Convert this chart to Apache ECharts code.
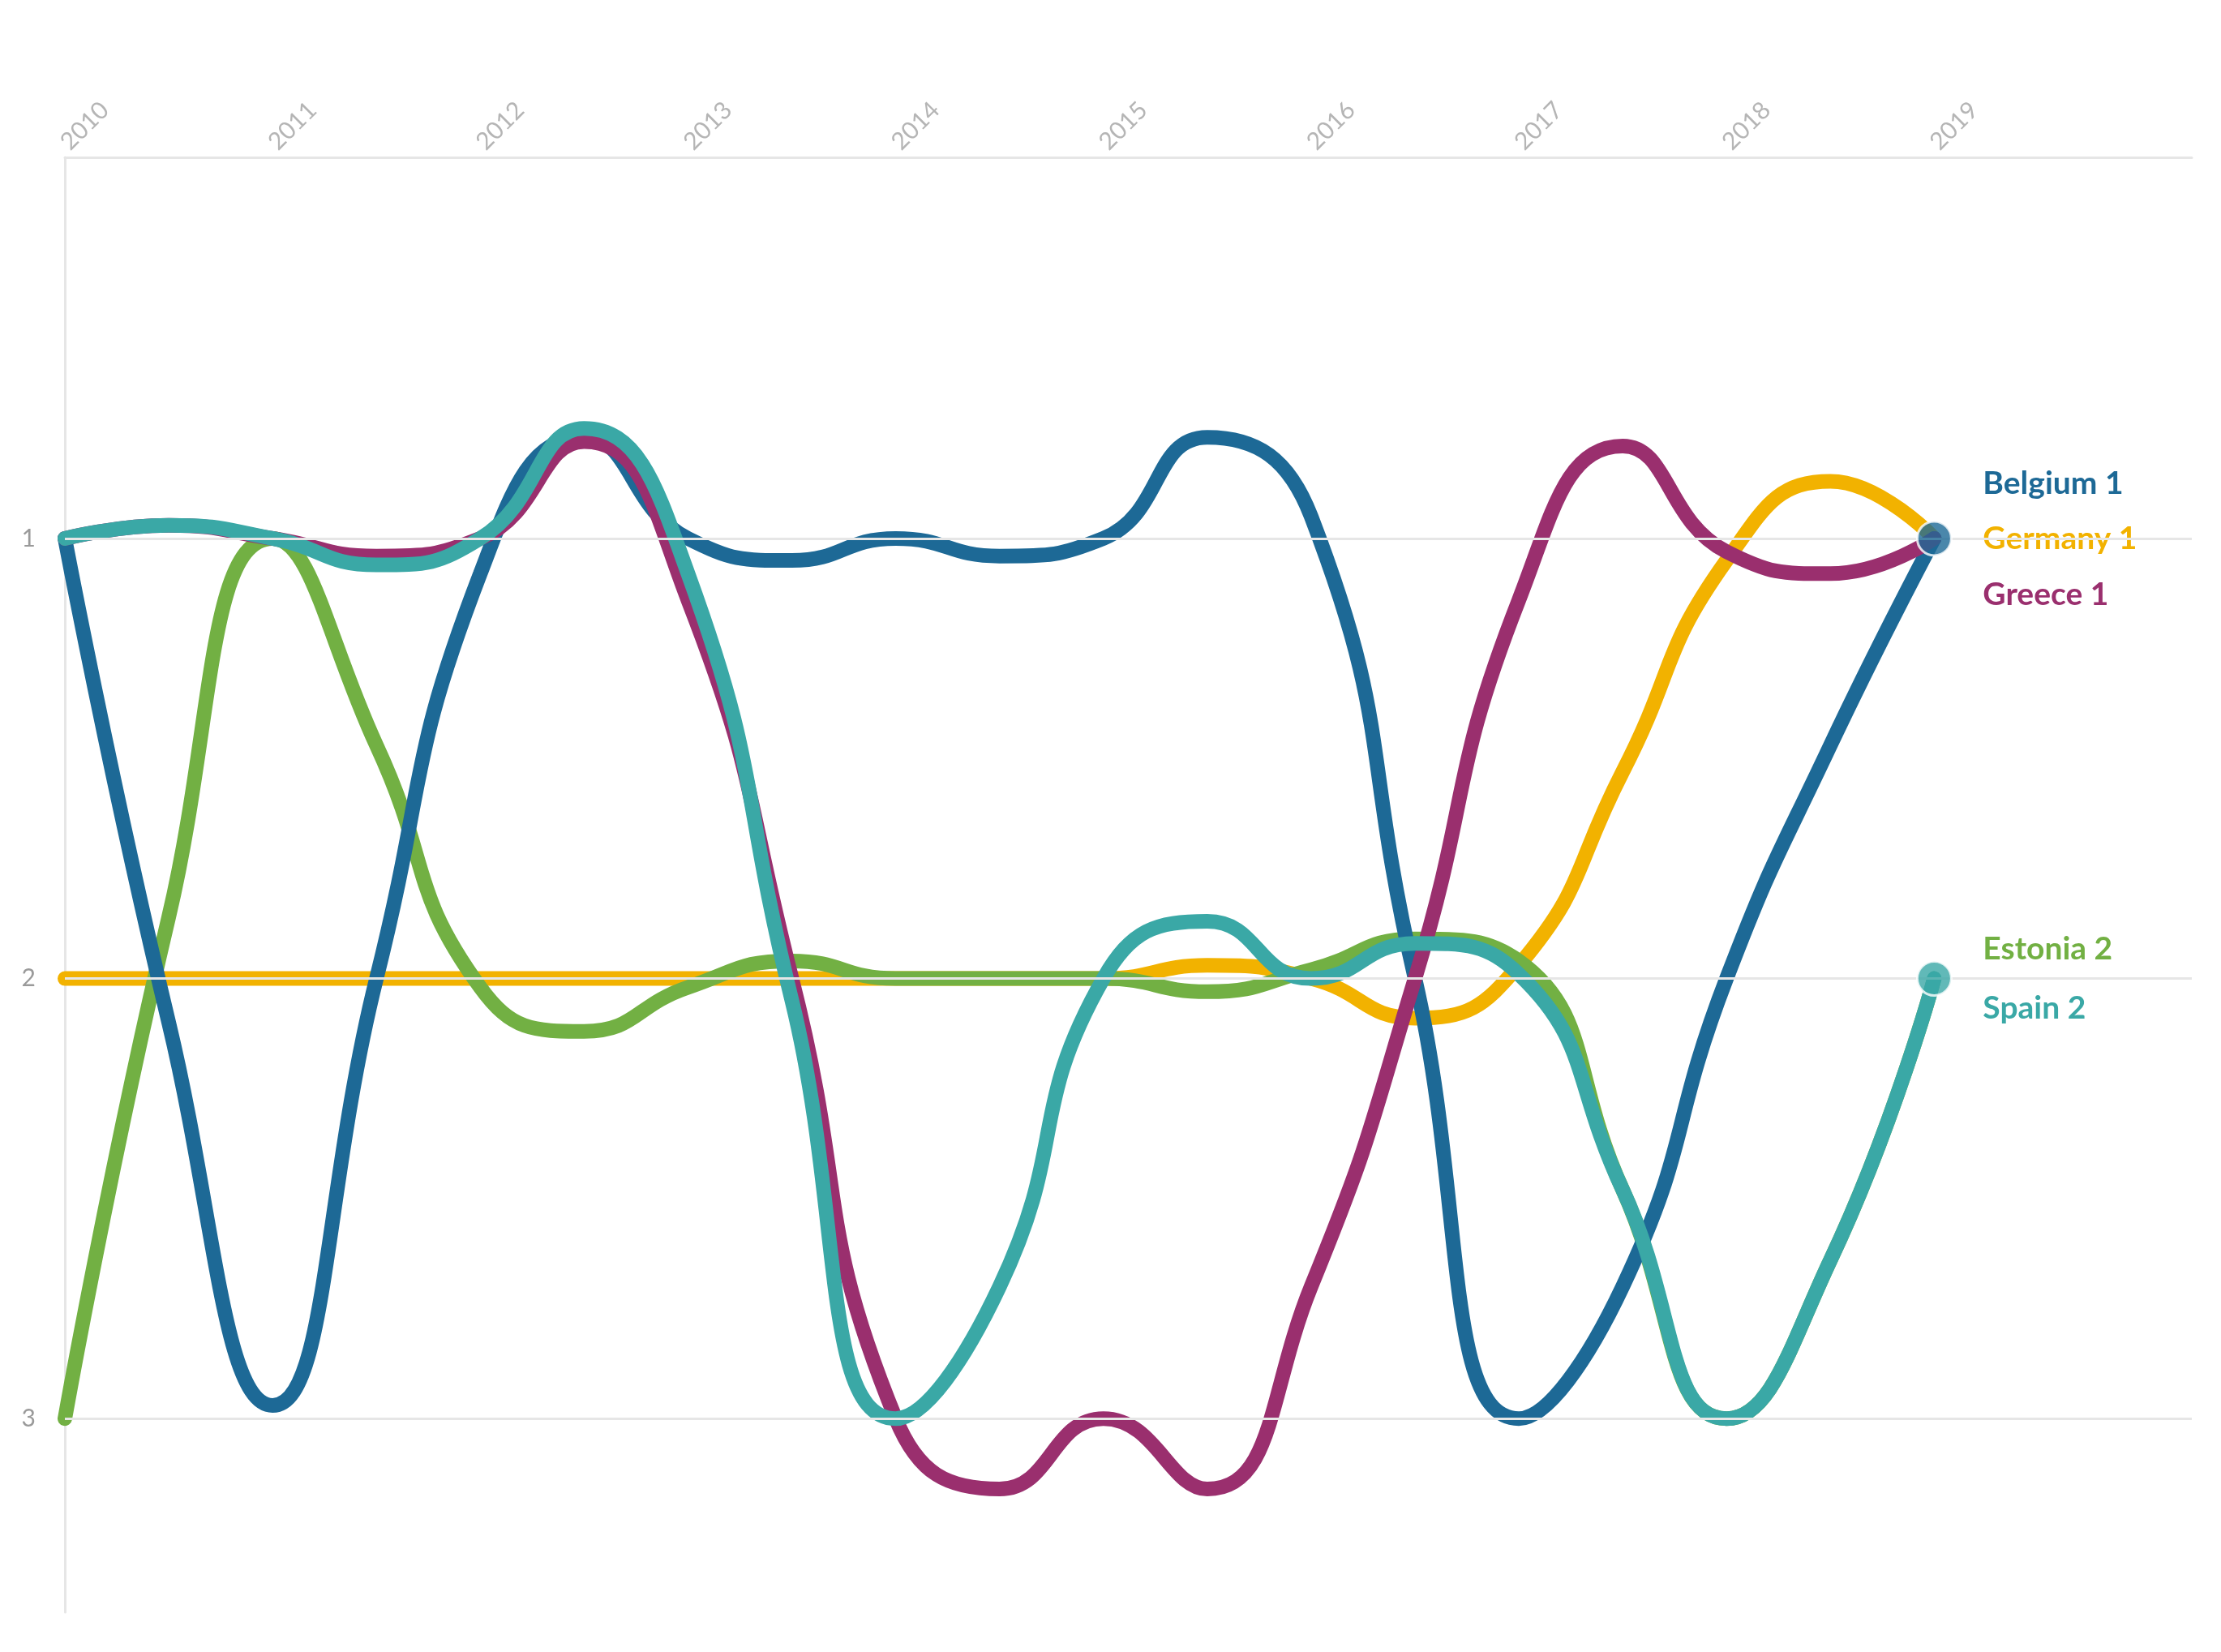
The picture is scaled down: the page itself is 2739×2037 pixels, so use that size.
<!DOCTYPE html>
<html>
<head>
<meta charset="utf-8">
<script src="https://cdn.jsdelivr.net/npm/echarts@6/dist/echarts.min.js"></script>
<style>html,body{margin:0;padding:0;background:#fff}#main{width:2739px;height:2037px}</style>
</head>
<body>
<div id="main"></div>
<script>
// sample positions (years and half years)
const years = [2010, 2010.5, 2011, 2011.5, 2012, 2012.5, 2013, 2013.5, 2014, 2014.5,
  2015, 2015.5, 2016, 2016.5, 2017, 2017.5, 2018, 2018.5, 2019];
const yearLabels = [2010, 2011, 2012, 2013, 2014, 2015, 2016, 2017, 2018, 2019];
const rankTicks = [1, 2, 3];

const belgium = [1.0, 2.1, 2.97, 2.0, 1.08, 0.77, 1.0, 1.05, 1.0, 1.04, 1.0, 0.77, 0.95, 2.0, 3.0, 2.7, 2.0, 1.47, 1.0];
const germany = [2.0, 2.0, 2.0, 2.0, 2.0, 2.0, 2.0, 2.0, 2.0, 2.0, 2.0, 1.97, 2.0, 2.09, 1.97, 1.53, 1.05, 0.87, 1.0];
const greece = [1.0, 0.97, 1.0, 1.04, 1.0, 0.78, 1.14, 2.0, 3.0, 3.16, 3.0, 3.16, 2.7, 2.0, 1.14, 0.79, 1.03, 1.08, 1.0];
const estonia = [3.0, 1.86, 1.0, 1.47, 2.02, 2.12, 2.02, 1.96, 2.0, 2.0, 2.0, 2.03, 1.98, 1.91, 1.96, 2.48, 3.0, 2.64, 2.0];
const spain = [1.0, 0.97, 1.0, 1.06, 1.0, 0.75, 1.08, 2.05, 3.0, 2.7, 2.0, 1.87, 2.0, 1.92, 1.99, 2.48, 3.0, 2.64, 2.0];

const countries = [
  { name: 'Germany', values: germany, color: '#f2b200', label: 'Germany 1', off: [0, 0] },
  { name: 'Estonia', values: estonia, color: '#72b043', label: 'Estonia 2', off: [0, -36] },
  { name: 'Belgium', values: belgium, color: '#1d6996', label: 'Belgium 1', off: [0, -68] },
  { name: 'Greece', values: greece, color: '#9a2f6e', label: 'Greece 1', off: [0, 69] },
  { name: 'Spain', values: spain, color: '#3aa8a6', label: 'Spain 2', off: [0, 37] }
];

const series = countries.map(c => ({
  name: c.name,
  type: 'line',
  smooth: 0.5,
  showSymbol: false,
  data: years.map((y, i) => [y, c.values[i]]),
  lineStyle: { color: c.color, width: 18, cap: 'round' },
  itemStyle: { color: c.color },
  endLabel: {
    show: true,
    formatter: c.label,
    color: c.color,
    fontFamily: 'Lato',
    fontWeight: 'bold',
    fontSize: 39,
    distance: 60,
    offset: c.off,
    textBorderColor: '#fff',
    textBorderWidth: 4
  },
  z: 2
}));

// grid lines at each rank
series.push({
  type: 'line',
  data: [],
  silent: true,
  markLine: {
    symbol: 'none',
    silent: true,
    label: { show: false },
    lineStyle: { color: '#e6e6e6', width: 3, type: 'solid' },
    data: rankTicks.map(r => ({ yAxis: r }))
  },
  z: 0
});

series.push({
  type: 'scatter',
  symbolSize: 42,
  data: [
    { value: [2019, 1], itemStyle: { color: '#1d6996' } },
    { value: [2019, 2], itemStyle: { color: '#3aa8a6' } }
  ],
  itemStyle: { borderColor: '#fff', borderWidth: 3 },
  z: 5
});

const chart = echarts.init(document.getElementById('main'));
chart.setOption({
  animation: false,
  grid: { left: 80, right: 36, top: 194, bottom: 49 },
  xAxis: {
    type: 'value',
    position: 'top',
    min: 2010,
    max: 2020.24,
    axisLine: { show: true, lineStyle: { color: '#e6e6e6', width: 3 } },
    axisTick: { show: false },
    splitLine: { show: false },
    axisLabel: {
      customValues: yearLabels,
      formatter: v => String(v),
      rotate: -45,
      color: '#b5b5b5',
      fontFamily: 'Lato',
      fontSize: 30,
      margin: 14
    }
  },
  yAxis: {
    type: 'value',
    inverse: true,
    min: 0.134,
    max: 3.44,
    axisLine: { show: true, lineStyle: { color: '#e6e6e6', width: 3 } },
    axisTick: { show: false },
    splitLine: { show: false },
    axisLabel: {
      customValues: rankTicks,
      color: '#9a9a9a',
      fontFamily: 'Lato',
      fontSize: 30,
      margin: 36
    }
  },
  series: series
});
</script>
</body>
</html>
